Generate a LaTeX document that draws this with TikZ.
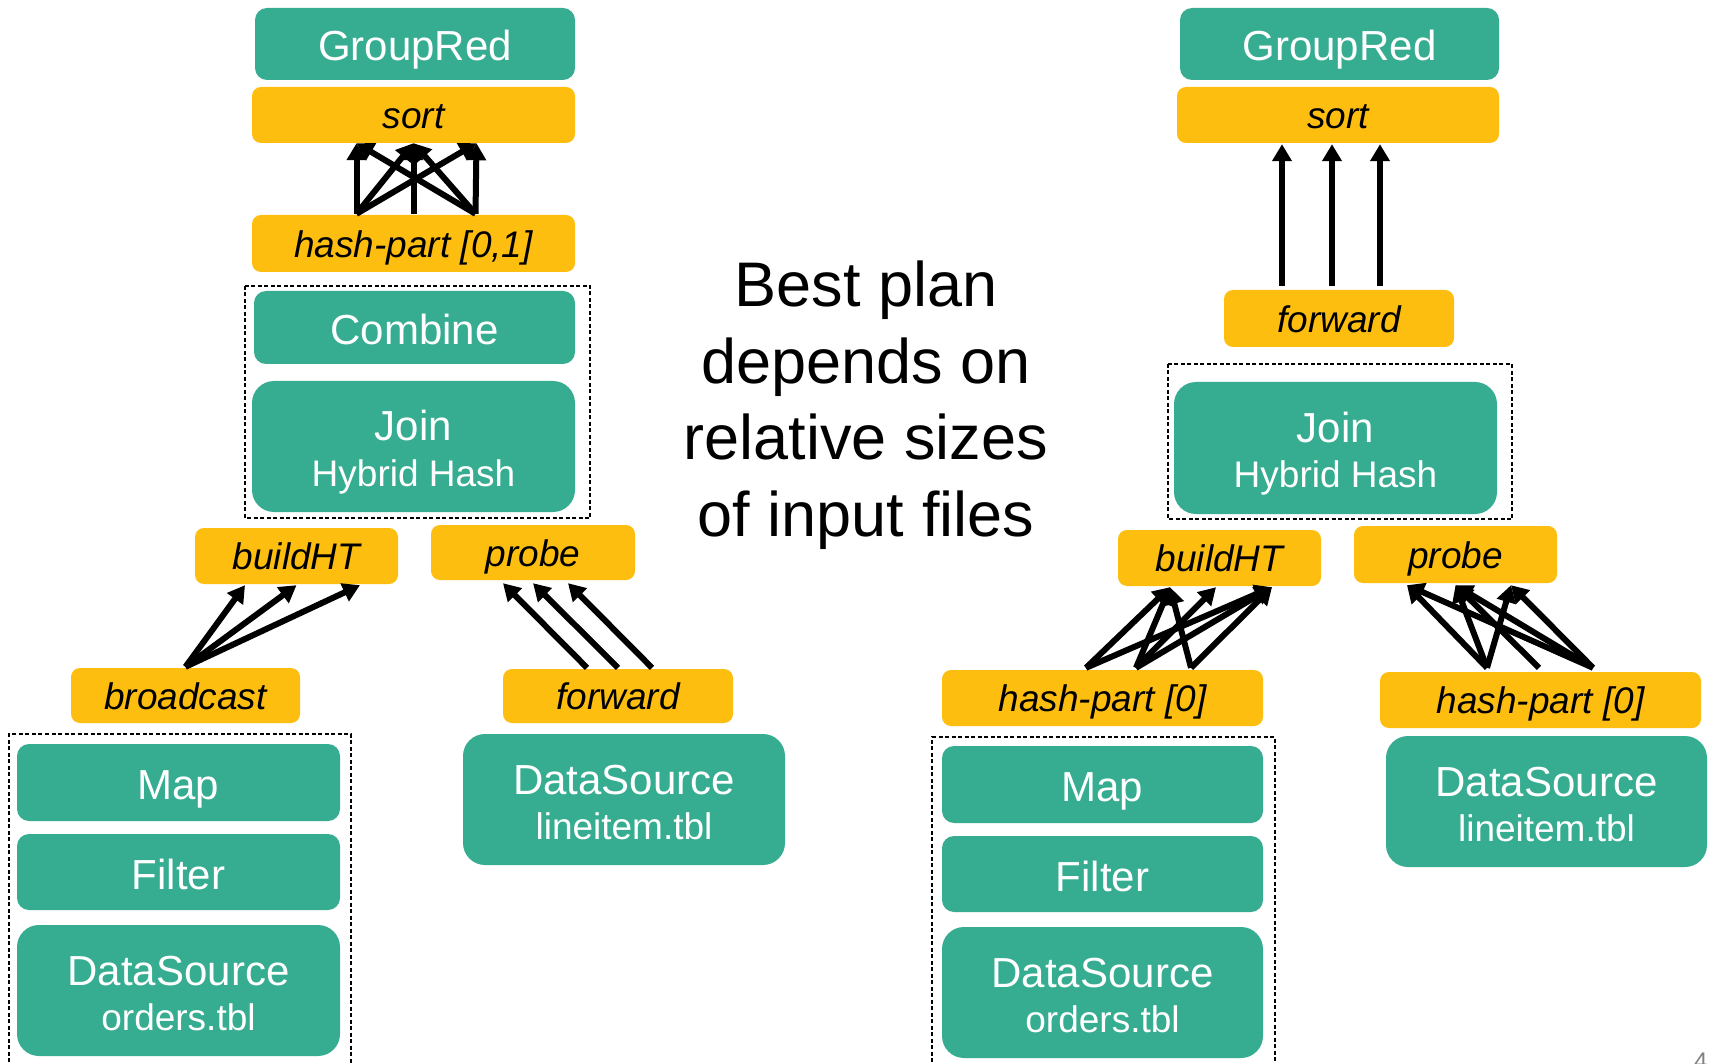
\documentclass[tikz,border=0pt]{standalone}
\usepackage{fontspec}
\setmainfont{Liberation Sans}
\usetikzlibrary{arrows.meta,calc}
\definecolor{opteal}{RGB}{54,173,145}
\definecolor{shipgold}{RGB}{253,190,16}
\tikzset{
  op/.style={fill=opteal, text=white, rounded corners=12pt, inner sep=0pt,
    minimum width=323pt, minimum height=76pt,
    font=\fontsize{42}{45}\selectfont, text height=34pt, text depth=0pt},
  bigop/.style={op, rounded corners=22pt, minimum height=131pt,
    text height=34pt, text depth=45pt},
  subtxt/.style={text=white, inner sep=0pt, font=\fontsize{37}{44}\selectfont},
  ship/.style={fill=shipgold, text=black, rounded corners=9pt, inner sep=0pt,
    minimum height=56pt, font=\fontsize{37}{44}\selectfont\itshape,
    text height=27.5pt, text depth=0pt},
  group/.style={draw=black, line width=1.4pt, dash pattern=on 4pt off 2.5pt},
  flow/.style={line width=6pt, -{Triangle[width=19pt,length=17pt]}},
  remark/.style={font=\fontsize{63}{76.5}\selectfont, align=center, inner sep=0pt}
}
% two-line operator: name, position, main text, second line, extra options
\newcommand{\twoline}[5]{%
  \node[bigop,#5] (#1) at #2 {#3};
  \node[subtxt, anchor=base] (#1-sub) at ([yshift=-39.5pt]#1.center) {#4};}
\begin{document}
\begin{tikzpicture}[x=1pt,y=-1pt]
\useasboundingbox[fill=white] (0,0) rectangle (1711,1064);

% ---------------- left plan: broadcast build side ----------------
\draw[group] (245,286) rectangle (590,518);
\draw[group] (9,1075) -- (9,734) -- (351,734) -- (351,1075);

\node[op, minimum width=320pt, minimum height=72pt] (lgr) at (415,44) {GroupRed};
\node[ship, minimum width=323pt] (lsort) at (413.5,115) {sort};
\node[ship, minimum width=323pt, minimum height=57pt] (lhp) at (413.5,243.5) {hash-part [0,1]};
\node[op, minimum width=321pt, minimum height=73pt] (lcomb) at (414.5,327.5) {Combine};
\twoline{ljoin}{(413.5,446.5)}{Join}{Hybrid Hash}{}
\node[ship, minimum width=203pt] (lbuild) at (296.5,556) {buildHT};
\node[ship, minimum width=204pt, minimum height=55pt] (lprobe) at (533,552.5) {probe};
\node[ship, minimum width=229pt, minimum height=55pt] (lbcast) at (185.5,695.5) {broadcast};
\node[ship, minimum width=230pt, minimum height=54pt] (lfwd) at (618,696) {forward};
\node[op, minimum height=77pt] (lmap) at (178.5,782.5) {Map};
\node[op] (lfilter) at (178.5,872) {Filter};
\twoline{lds}{(178.5,990.5)}{DataSource}{orders.tbl}{}
\twoline{lli}{(624,799.5)}{DataSource}{lineitem.tbl}{minimum width=322pt}

\foreach \s/\t in {-57/-57,-57/0,-57/63,0/0,62/-57,62/0,62/63}
  \draw[flow] ([xshift=\s pt,yshift=1pt]lhp.north) -- ([xshift=\t pt]lsort.south);
\foreach \t in {-51.5,0,63.5}
  \draw[flow] ([yshift=1pt]lbcast.north) -- ([xshift=\t pt,yshift=-1pt]lbuild.south);
\foreach \s/\t in {-31/-30,0/0,34/35}
  \draw[flow] ([xshift=\s pt,yshift=1pt]lfwd.north) -- ([xshift=\t pt,yshift=-3pt]lprobe.south);

% ---------------- right plan: partitioned on both sides ----------------
\draw[group] (1168,364) rectangle (1512,519);
\draw[group] (932,1075) -- (932,737) -- (1275,737) -- (1275,1075);

\node[op, minimum width=319pt, minimum height=72pt] (rgr) at (1339.5,44) {GroupRed};
\node[ship, minimum width=322pt] (rsort) at (1338,115) {sort};
\node[ship, minimum width=230pt, minimum height=57pt] (rfwd) at (1339,318.5) {forward};
\twoline{rjoin}{(1335.5,448)}{Join}{Hybrid Hash}{minimum height=132pt}
\node[ship, minimum width=203pt] (rbuild) at (1219.5,558) {buildHT};
\node[ship, minimum width=203pt, minimum height=57pt] (rprobe) at (1455.5,554.5) {probe};
\node[ship, minimum width=321pt] (rhpa) at (1102.5,698) {hash-part [0]};
\node[ship, minimum width=321pt] (rhpb) at (1540.5,700) {hash-part [0]};
\node[op, minimum width=321pt, minimum height=77pt] (rmap) at (1102.5,784.5) {Map};
\node[op, minimum width=321pt] (rfilter) at (1102.5,874) {Filter};
\twoline{rds}{(1102.5,992.5)}{DataSource}{orders.tbl}{minimum width=321pt}
\twoline{rli}{(1546.5,801.5)}{DataSource}{lineitem.tbl}{minimum width=321pt}

\foreach \s/\t in {-57/-56,-7/-6,41/42}
  \draw[flow] ([xshift=\s pt,yshift=4pt]rfwd.north) -- ([xshift=\t pt,yshift=-1pt]rsort.south);
\foreach \s/\t in {-16.5/-49.5,-16.5/52.5,33.5/-49.5,33.5/-3.5,33.5/52.5,88.5/-49.5,88.5/52.5}
  \draw[flow] ([xshift=\s pt,yshift=2pt]rhpa.north) -- ([xshift=\t pt,yshift=-1pt]rbuild.south);
\foreach \s/\t in {-53.5/-48.5,-53.5/0,-53.5/55.5,-1.5/0,52.5/-48.5,52.5/0,52.5/55.5}
  \draw[flow] ([xshift=\s pt,yshift=4pt]rhpb.north) -- ([xshift=\t pt,yshift=-2pt]rprobe.south);

% ---------------- remark ----------------
\node[remark] (note) at (866,405) {Best plan\\depends on\\relative sizes\\of input files};

% page number
\node[anchor=base west, inner sep=0pt, text=gray, font=\fontsize{24}{28}\selectfont] (pg) at (1694,1069) {4};
\end{tikzpicture}
\end{document}
